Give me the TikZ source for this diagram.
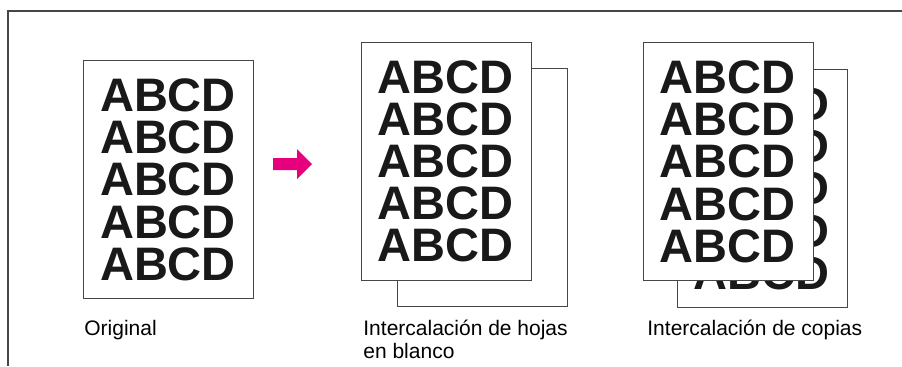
\documentclass[tikz,border=0pt]{standalone}
\usepackage{fontspec}
\setmainfont{Liberation Sans}
\usepackage{tikz}
\usetikzlibrary{positioning}

\definecolor{arrowpink}{RGB}{230,0,126}
\definecolor{framegray}{RGB}{70,70,70}

\begin{document}
\begin{tikzpicture}[x=0.5pt, y=-0.5pt]
    \tikzstyle{sheet} = [rectangle, draw=framegray, line width=0.5pt, fill=white, minimum width=85pt, minimum height=119pt, inner sep=0pt, anchor=north west]
    \tikzstyle{letters} = [anchor=base, inner sep=0pt, text=black!90, font=\bfseries\fontsize{23.5}{21}\selectfont]
    \tikzstyle{caption} = [anchor=base west, inner sep=0pt, align=left, font=\fontsize{10.5}{11.5}\selectfont]

    \useasboundingbox (0,0) rectangle (902,366);
    \draw [framegray, line width=1pt] (902,11) -- (8,11) -- (8,366);

    % original
    \node [sheet] (orig) at (83,60) {};
    \foreach \k in {0,...,4}
        \node [letters] (orig-\k) at (168,111.7+42.1*\k) {ABCD};
    \node [caption] (origlabel) at (84,335) {Original};

    \fill [arrowpink] (273,158) -- (297,158) -- (297,149) -- (312,164) -- (297,179) -- (297,170) -- (273,170) -- cycle;

    % blank sheets
    \node [sheet] (blankback) at (397,68) {};
    \node [sheet] (blankfront) at (360.7,41.7) {};
    \foreach \k in {0,...,4}
        \node [letters] (blank-\k) at (445.3,93.4+42.1*\k) {ABCD};
    \node [caption] (blanklabel) at (363,358) {Intercalación de hojas\\en blanco};

    % copies
    \node [sheet] (copyback) at (677,69) {};
    \foreach \k in {0,...,4}
        \node [letters] (copyb-\k) at (761.5,120.7+42.1*\k) {ABCD};
    \node [sheet] (copyfront) at (643,42) {};
    \foreach \k in {0,...,4}
        \node [letters] (copyf-\k) at (727.5,93.7+42.1*\k) {ABCD};
    \node [caption] (copylabel) at (647,335) {Intercalación de copias};
\end{tikzpicture}
\end{document}
